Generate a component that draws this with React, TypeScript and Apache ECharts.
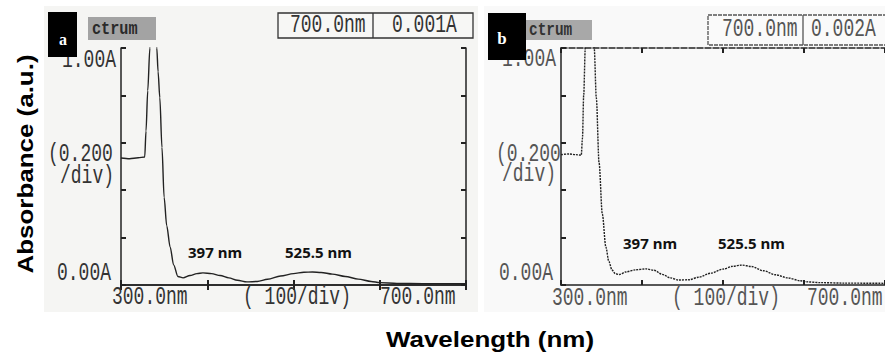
import React, { useEffect, useRef } from "react";
import * as echarts from "echarts";

// ---- data ----
const wavelengthA = [300, 310, 320, 327.5, 329, 331, 333.5, 336, 339, 341.5, 343, 345, 347.5, 350, 353, 357, 361, 366, 372, 380, 388, 395, 405, 415, 425, 435, 446, 458, 470, 485, 500, 512, 522, 532, 545, 560, 575, 590, 600, 620, 650, 700];
const absorbanceA = [0.536, 0.533, 0.537, 0.54, 0.65, 0.82, 1.0, 1.2, 1.2, 1.0, 0.9, 0.79, 0.58, 0.37, 0.25, 0.16, 0.085, 0.036, 0.03, 0.04, 0.048, 0.051, 0.048, 0.04, 0.03, 0.02, 0.013, 0.015, 0.024, 0.038, 0.048, 0.054, 0.055, 0.053, 0.046, 0.036, 0.025, 0.015, 0.01, 0.007, 0.006, 0.005];

const wavelengthB = [300, 310, 318, 325, 326.5, 328, 330, 333, 338, 341, 343.6, 347, 351, 355.4, 359, 363, 367, 372, 380, 392, 405, 415, 425, 435, 445, 458, 470, 485, 500, 512, 523, 535, 550, 565, 580, 595, 605, 620, 650, 700];
const absorbanceB = [0.55, 0.553, 0.55, 0.548, 0.62, 0.8, 1.0, 1.2, 1.2, 1.0, 0.79, 0.515, 0.3, 0.16, 0.1, 0.063, 0.048, 0.044, 0.055, 0.064, 0.068, 0.062, 0.045, 0.03, 0.021, 0.022, 0.033, 0.05, 0.067, 0.079, 0.084, 0.078, 0.06, 0.043, 0.03, 0.018, 0.013, 0.01, 0.008, 0.007];

const yTickLabels = ["1.00A", "(0.200", "/div)", "0.00A"];
const xTickLabels = ["300.0nm", "( 100/div)", "700.0nm"];
const readoutA = ["700.0nm", "0.001A"];
const readoutB = ["700.0nm", "0.002A"];
const peakLabels = ["397 nm", "525.5 nm"];
const panelLetters = ["a", "b"];

const MONO = '25px "Liberation Mono"';

function mono(text: string, x: number, y: number, fill: string, z = 100) {
  return {
    type: "text",
    x,
    y,
    scaleX: 0.72,
    z,
    style: { text, font: MONO, fill, textAlign: "left", textVerticalAlign: "middle" },
  };
}

function bold(text: string, x: number, y: number) {
  return {
    type: "text",
    x,
    y,
    z: 100,
    style: {
      text,
      font: 'bold 15px "Noto Sans"',
      fill: "#111",
      textAlign: "left",
      textVerticalAlign: "middle",
    },
  };
}

export default function App() {
  const ref = useRef<HTMLDivElement>(null);

  useEffect(() => {
    if (!ref.current) return;
    const chart = echarts.init(ref.current, null, { renderer: "svg" });

    const axisCol = "#222";
    const xBase = (grid: number, pos: "top" | "bottom", dashed = false) => ({
      type: "value",
      gridIndex: grid,
      position: pos,
      min: 300,
      max: 700,
      interval: 100,
      axisLine: { show: true, lineStyle: { color: axisCol, width: 1.5, type: dashed ? [6, 2] : "solid" } },
      axisTick: { show: true, inside: true, length: 5, lineStyle: { color: axisCol, width: 2 } },
      axisLabel: { show: false },
      splitLine: { show: false },
    });
    const yBase = (grid: number, pos: "left" | "right") => ({
      type: "value",
      gridIndex: grid,
      position: pos,
      min: 0,
      max: 1,
      interval: 0.2,
      axisLine: { show: true, lineStyle: { color: axisCol, width: 1.5 } },
      axisTick: { show: true, inside: true, length: 5, lineStyle: { color: axisCol, width: 2 } },
      axisLabel: { show: false },
      splitLine: { show: false },
    });

    const colA = "#333";
    const colB = "#555";

    const graphic: any[] = [
      // scanned panel backgrounds
      { type: "rect", z: -100, shape: { x: 44, y: 6, width: 434, height: 306 }, style: { fill: "#f5f5f3" } },
      { type: "rect", z: -100, shape: { x: 484, y: 6, width: 401, height: 306 }, style: { fill: "#f9f9f9" } },

      // panel a texts
      mono(yTickLabels[0], 62, 61, colA),
      mono(yTickLabels[1], 48, 155, colA),
      mono(yTickLabels[2], 60, 177, colA),
      mono(yTickLabels[3], 57, 274, colA),
      mono(xTickLabels[0], 112, 298, colA),
      mono(xTickLabels[1], 243, 298, colA),
      mono(xTickLabels[2], 380, 298, colA),
      { type: "rect", z: 90, shape: { x: 278, y: 13, width: 195, height: 25 }, style: { fill: "#f7f7f5", stroke: "#333", lineWidth: 1.3 } },
      { type: "line", z: 95, shape: { x1: 373, y1: 13, x2: 373, y2: 38 }, style: { stroke: "#333", lineWidth: 1.3 } },
      mono(readoutA[0], 290, 26, colA),
      mono(readoutA[1], 392, 26, colA),
      { type: "rect", z: 110, shape: { x: 88, y: 17, width: 68, height: 23 }, style: { fill: "#a3a3a3" } },
      {
        type: "text", x: 92, y: 29, z: 115, scaleX: 0.8,
        style: { text: "ctrum", font: 'bold 19px "Liberation Mono"', fill: "#2a2a2a", textAlign: "left", textVerticalAlign: "middle" },
      },
      { type: "rect", z: 120, shape: { x: 48, y: 12, width: 29, height: 45 }, style: { fill: "#000" } },
      {
        type: "text", x: 63, y: 39, z: 125,
        style: { text: panelLetters[0], font: 'bold 16px "Liberation Serif"', fill: "#fff", textAlign: "center", textVerticalAlign: "middle" },
      },
      bold(peakLabels[0], 188, 252),
      bold(peakLabels[1], 285, 252),

      // panel b texts
      mono(yTickLabels[0], 502, 60, colB),
      mono(yTickLabels[1], 496, 155, colB),
      mono(yTickLabels[2], 502, 175, colB),
      mono(yTickLabels[3], 499, 274, colB),
      mono(xTickLabels[0], 552, 299, colB),
      mono(xTickLabels[1], 672, 299, colB),
      mono(xTickLabels[2], 807, 299, colB),
      { type: "rect", z: 90, shape: { x: 708, y: 15, width: 190, height: 30 }, style: { fill: "#fafafa", stroke: "#555", lineWidth: 1.3, lineDash: [4, 1] } },
      { type: "line", z: 95, shape: { x1: 803, y1: 15, x2: 803, y2: 45 }, style: { stroke: "#555", lineWidth: 1.3 } },
      mono(readoutB[0], 722, 30, colB),
      mono(readoutB[1], 811, 30, colB),
      { type: "rect", z: 110, shape: { x: 526, y: 20, width: 66, height: 20 }, style: { fill: "#a8a8a8" } },
      {
        type: "text", x: 529, y: 30, z: 115, scaleX: 0.8,
        style: { text: "ctrum", font: 'bold 18px "Liberation Mono"', fill: "#333", textAlign: "left", textVerticalAlign: "middle" },
      },
      { type: "rect", z: 120, shape: { x: 488, y: 13, width: 38, height: 47 }, style: { fill: "#000" } },
      {
        type: "text", x: 502, y: 38, z: 125,
        style: { text: panelLetters[1], font: 'bold 17px "Liberation Serif"', fill: "#fff", textAlign: "center", textVerticalAlign: "middle" },
      },
      bold(peakLabels[0], 623, 243),
      bold(peakLabels[1], 718, 243),

      // axis titles
      {
        type: "text", x: 25, y: 164, rotation: Math.PI / 2, scaleX: 1.18, z: 100,
        style: { text: "Absorbance (a.u.)", font: 'bold 22px "Liberation Sans"', fill: "#000", textAlign: "center", textVerticalAlign: "middle" },
      },
      {
        type: "text", x: 490, y: 339, scaleX: 1.18, z: 100,
        style: { text: "Wavelength (nm)", font: 'bold 22px "Liberation Sans"', fill: "#000", textAlign: "center", textVerticalAlign: "middle" },
      },
    ];

    chart.setOption({
      animation: false,
      backgroundColor: "#ffffff",
      grid: [
        { left: 121, top: 48, width: 345, height: 237 },
        { left: 561, top: 48, width: 330, height: 237 },
      ],
      xAxis: [xBase(0, "bottom"), xBase(0, "top"), xBase(1, "bottom"), xBase(1, "top", true)],
      yAxis: [yBase(0, "left"), yBase(0, "right"), yBase(1, "left")],
      series: [
        {
          type: "line",
          xAxisIndex: 0,
          yAxisIndex: 0,
          data: wavelengthA.map((w, i) => [w, absorbanceA[i]]),
          showSymbol: false,
          smooth: 0.3,
          smoothMonotone: "x",
          clip: true,
          lineStyle: { color: "#222", width: 1.4 },
        },
        {
          type: "line",
          xAxisIndex: 2,
          yAxisIndex: 2,
          data: wavelengthB.map((w, i) => [w, absorbanceB[i]]),
          showSymbol: false,
          smooth: 0.3,
          smoothMonotone: "x",
          clip: true,
          lineStyle: { color: "#222", width: 1.4, type: [2, 1] },
        },
      ],
      graphic,
    });

    return () => chart.dispose();
  }, []);

  return (
    <div
      ref={ref}
      style={{ position: "fixed", left: 0, top: 0, width: 885, height: 352 }}
    />
  );
}
